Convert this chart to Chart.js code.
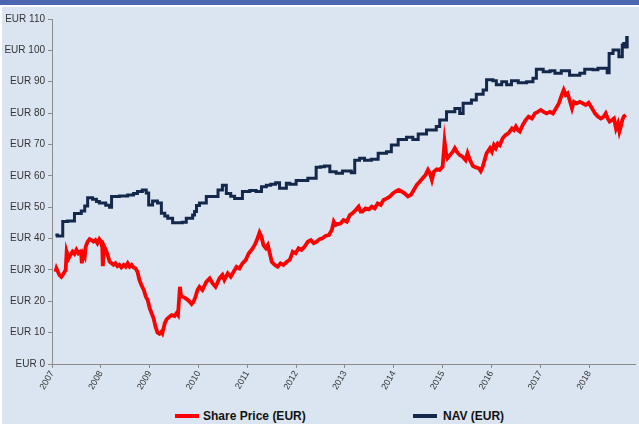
<!DOCTYPE html>
<html lang="en">
<head>
<meta charset="UTF-8">
<title>Share Price vs NAV</title>
<script src="https://cdn.jsdelivr.net/npm/chart.js"></script>
<style>
    body { margin: 0; width: 639px; height: 424px; position: relative; background: #ffffff; overflow: hidden; font-family: "Liberation Sans", Arial, sans-serif; }
    #topbar { position: absolute; left: 0; top: 0; width: 639px; height: 5px; background: #4c66b2; }
    #panel { position: absolute; left: 2px; top: 7px; width: 637px; height: 417px; background: #dbe5f1; }
    #wrap { position: absolute; left: 0; top: 0; width: 639px; height: 400px; }
    .leg { position: absolute; top: 408px; font-weight: bold; font-size: 12px; color: #111; line-height: 16px; }
    .leg span.swatch { position: absolute; top: 6px; width: 24px; height: 4px; }
</style>
</head>
<body>
<div id="topbar"></div>
<div id="panel"></div>
<div id="wrap"><canvas id="chart" width="639" height="400"></canvas></div>
<div class="leg" style="left:175px"><span class="swatch" style="left:0;background:#ff0000"></span><span style="margin-left:28px">Share Price (EUR)</span></div>
<div class="leg" style="left:413px"><span class="swatch" style="left:0;background:#14284b"></span><span style="margin-left:30px">NAV (EUR)</span></div>
<script>
// share price, roughly weekly readings (decimal years)
const shareYears = [2007.07, 2007.09, 2007.15, 2007.19, 2007.24, 2007.28, 2007.30, 2007.34, 2007.38, 2007.42,
    2007.46, 2007.50, 2007.54, 2007.58, 2007.60, 2007.61, 2007.64, 2007.67, 2007.69, 2007.73,
    2007.77, 2007.81, 2007.85, 2007.89, 2007.93, 2007.97, 2008.01, 2008.03, 2008.04, 2008.07,
    2008.10, 2008.14, 2008.18, 2008.22, 2008.26, 2008.30, 2008.34, 2008.38, 2008.42, 2008.47,
    2008.51, 2008.55, 2008.59, 2008.63, 2008.67, 2008.71, 2008.75, 2008.79, 2008.83, 2008.88,
    2008.92, 2008.96, 2009.00, 2009.04, 2009.08, 2009.12, 2009.16, 2009.20, 2009.24, 2009.26,
    2009.31, 2009.35, 2009.41, 2009.45, 2009.51, 2009.55, 2009.58, 2009.62, 2009.64, 2009.67,
    2009.74, 2009.80, 2009.86, 2009.90, 2009.94, 2009.98, 2010.02, 2010.08, 2010.16, 2010.23,
    2010.29, 2010.35, 2010.43, 2010.49, 2010.53, 2010.60, 2010.66, 2010.72, 2010.78, 2010.84,
    2010.90, 2010.97, 2011.03, 2011.09, 2011.15, 2011.21, 2011.25, 2011.29, 2011.33, 2011.38,
    2011.42, 2011.46, 2011.50, 2011.56, 2011.62, 2011.68, 2011.74, 2011.81, 2011.87, 2011.93,
    2011.99, 2012.05, 2012.11, 2012.17, 2012.24, 2012.30, 2012.36, 2012.42, 2012.48, 2012.54,
    2012.60, 2012.67, 2012.73, 2012.77, 2012.81, 2012.85, 2012.91, 2012.97, 2013.04, 2013.10,
    2013.16, 2013.22, 2013.28, 2013.32, 2013.36, 2013.42, 2013.49, 2013.55, 2013.61, 2013.67,
    2013.73, 2013.79, 2013.86, 2013.92, 2013.98, 2014.04, 2014.10, 2014.16, 2014.22, 2014.29,
    2014.35, 2014.41, 2014.47, 2014.53, 2014.59, 2014.65, 2014.70, 2014.74, 2014.78, 2014.82,
    2014.88, 2014.94, 2015.00, 2015.04, 2015.07, 2015.10, 2015.15, 2015.21, 2015.25, 2015.29,
    2015.35, 2015.41, 2015.47, 2015.51, 2015.56, 2015.62, 2015.68, 2015.74, 2015.78, 2015.82,
    2015.86, 2015.90, 2015.97, 2016.01, 2016.05, 2016.09, 2016.13, 2016.17, 2016.23, 2016.29,
    2016.35, 2016.42, 2016.46, 2016.50, 2016.54, 2016.58, 2016.64, 2016.70, 2016.76, 2016.83,
    2016.89, 2016.95, 2017.01, 2017.07, 2017.13, 2017.20, 2017.26, 2017.32, 2017.38, 2017.44,
    2017.48, 2017.52, 2017.56, 2017.60, 2017.65, 2017.69, 2017.75, 2017.81, 2017.87, 2017.93,
    2017.99, 2018.06, 2018.12, 2018.18, 2018.24, 2018.30, 2018.34, 2018.38, 2018.42, 2018.47,
    2018.51, 2018.55, 2018.59, 2018.62, 2018.65, 2018.68, 2018.71, 2018.75];
const sharePrice = [29.4, 30.5, 28.4, 27.8, 28.9, 30.0, 35.8, 33.7, 34.8, 35.8,
    35.1, 36.4, 35.3, 35.8, 34.8, 32.1, 35.1, 34.2, 37.4, 39.0,
    39.8, 39.5, 39.0, 39.5, 38.5, 39.8, 39.0, 36.9, 31.2, 37.4,
    36.4, 34.8, 32.6, 32.1, 31.6, 32.1, 31.2, 31.6, 30.8, 31.6,
    31.0, 32.1, 31.0, 31.6, 30.8, 30.5, 29.4, 26.8, 25.2, 23.6,
    21.5, 20.4, 17.8, 16.2, 14.6, 11.9, 10.0, 9.6, 10.3, 9.8,
    13.0, 14.3, 15.1, 15.6, 15.3, 16.2, 15.6, 24.6, 22.0, 21.5,
    20.9, 20.2, 19.1, 19.9, 21.5, 23.6, 24.6, 23.6, 26.2, 27.3,
    25.7, 24.6, 27.3, 28.4, 26.8, 28.9, 27.8, 29.4, 31.0, 30.5,
    32.1, 33.2, 35.3, 36.4, 37.9, 40.1, 41.9, 40.6, 37.9, 36.9,
    37.9, 35.3, 32.6, 31.6, 31.0, 32.1, 31.6, 32.6, 33.2, 35.8,
    35.3, 36.9, 36.4, 37.4, 39.0, 39.5, 38.5, 39.0, 39.8, 40.1,
    40.8, 41.1, 42.7, 45.4, 44.3, 44.6, 44.8, 45.9, 45.4, 47.5,
    48.1, 49.1, 50.2, 48.6, 48.6, 49.6, 49.3, 50.2, 49.6, 51.2,
    50.7, 52.3, 52.8, 53.4, 54.4, 55.0, 55.5, 55.0, 54.4, 53.4,
    53.9, 55.5, 57.1, 58.1, 59.2, 60.3, 61.9, 60.8, 58.7, 61.3,
    62.1, 61.9, 62.9, 70.9, 67.2, 65.6, 66.6, 67.7, 68.8, 67.7,
    66.6, 66.1, 65.0, 67.2, 65.0, 63.1, 62.7, 62.4, 61.5, 62.9,
    65.0, 67.2, 68.8, 67.7, 69.8, 68.8, 70.3, 69.8, 72.0, 73.0,
    73.6, 75.1, 74.6, 75.7, 74.6, 74.1, 76.2, 77.8, 78.9, 78.3,
    79.9, 80.4, 81.0, 80.4, 79.9, 80.4, 79.9, 81.5, 83.1, 85.8,
    87.4, 85.8, 86.3, 84.2, 81.5, 83.6, 83.1, 83.6, 83.1, 82.6,
    83.3, 81.5, 79.9, 78.9, 78.3, 78.9, 79.9, 78.3, 77.3, 77.8,
    78.3, 75.1, 76.7, 74.1, 75.7, 77.8, 78.9, 79.4];

// NAV, published in steps: each value holds until the next date
const navYears = [2007.07, 2007.11, 2007.22, 2007.32, 2007.46, 2007.60, 2007.67, 2007.73, 2007.83, 2007.91,
    2007.97, 2008.10, 2008.18, 2008.22, 2008.38, 2008.55, 2008.67, 2008.75, 2008.85, 2008.93,
    2008.98, 2009.06, 2009.16, 2009.24, 2009.31, 2009.37, 2009.47, 2009.67, 2009.75, 2009.88,
    2009.92, 2009.96, 2010.02, 2010.16, 2010.40, 2010.49, 2010.57, 2010.66, 2010.74, 2010.90,
    2011.05, 2011.18, 2011.29, 2011.39, 2011.48, 2011.58, 2011.66, 2011.80, 2011.87, 2012.00,
    2012.24, 2012.41, 2012.50, 2012.58, 2012.69, 2012.82, 2012.95, 2013.13, 2013.20, 2013.30,
    2013.40, 2013.54, 2013.68, 2013.85, 2013.95, 2014.09, 2014.26, 2014.39, 2014.50, 2014.67,
    2014.87, 2014.94, 2015.08, 2015.25, 2015.35, 2015.42, 2015.59, 2015.69, 2015.83, 2015.90,
    2016.03, 2016.10, 2016.21, 2016.31, 2016.41, 2016.55, 2016.72, 2016.85, 2016.92, 2017.06,
    2017.20, 2017.30, 2017.43, 2017.60, 2017.81, 2017.91, 2018.08, 2018.18, 2018.37, 2018.41,
    2018.49, 2018.61, 2018.68, 2018.71, 2018.73, 2018.77, 2018.78];
const navValues = [41.1, 40.8, 45.4, 45.6, 48.0, 48.8, 50.4, 53.0, 52.5, 51.8,
    51.3, 50.6, 50.0, 53.4, 53.6, 53.9, 54.4, 55.0, 55.5, 54.5,
    50.7, 52.0, 51.3, 48.1, 47.2, 46.5, 45.0, 45.2, 46.5, 47.5,
    48.6, 50.5, 51.3, 53.4, 55.5, 57.0, 54.4, 53.5, 52.8, 55.0,
    55.3, 55.0, 56.5, 57.0, 57.3, 57.8, 56.0, 57.6, 57.3, 58.5,
    59.2, 62.7, 62.9, 63.1, 61.3, 60.8, 61.5, 61.0, 65.0, 65.6,
    65.0, 65.3, 67.2, 67.7, 69.8, 71.6, 72.3, 71.6, 73.3, 74.6,
    75.7, 77.8, 80.4, 81.5, 79.9, 83.1, 84.2, 86.0, 87.4, 90.6,
    90.3, 89.0, 90.0, 89.0, 90.3, 89.7, 90.0, 91.1, 94.0, 93.2,
    93.5, 92.7, 93.5, 92.1, 92.7, 94.0, 93.8, 94.3, 92.9, 99.0,
    100.1, 98.0, 101.7, 102.2, 101.1, 104.1, 100.7];

const yearMin = 2007;
const yearMax = 2018.94;
const valueMax = 110;

const fontFamily = "'Liberation Sans', Arial, sans-serif";

new Chart(document.getElementById('chart'), {
    type: 'line',
    data: {
        datasets: [
            {
                label: 'Share Price (EUR)',
                data: shareYears.map((x, i) => ({ x: x, y: sharePrice[i] })),
                borderColor: '#ff0000',
                borderWidth: 3.8,
                pointRadius: 0,
                tension: 0
            },
            {
                label: 'NAV (EUR)',
                data: navYears.map((x, i) => ({ x: x, y: navValues[i] })),
                borderColor: '#14284b',
                borderWidth: 3,
                pointRadius: 0,
                stepped: true
            }
        ]
    },
    options: {
        responsive: false,
        animation: false,
        layout: { padding: { top: 19, right: 4, left: 0, bottom: 0 } },
        plugins: { legend: { display: false }, tooltip: { enabled: false } },
        scales: {
            x: {
                type: 'linear',
                min: yearMin,
                max: yearMax,
                afterFit: s => { s.height = 36; },
                border: { color: '#8c8c8c', width: 1 },
                grid: { drawOnChartArea: false, drawTicks: true, tickLength: 4, color: '#8c8c8c' },
                ticks: {
                    stepSize: 1,
                    includeBounds: false,
                    minRotation: 60,
                    maxRotation: 60,
                    autoSkip: false,
                    padding: 1,
                    color: '#333333',
                    font: { family: fontFamily, size: 9 },
                    callback: v => Number.isInteger(v) ? String(v) : ''
                }
            },
            y: {
                min: 0,
                max: valueMax,
                afterFit: s => { s.width = 52; },
                border: { color: '#8c8c8c', width: 1 },
                grid: { drawOnChartArea: false, drawTicks: true, tickLength: 4, color: '#8c8c8c' },
                ticks: {
                    stepSize: 10,
                    padding: 3,
                    color: '#333333',
                    font: { family: fontFamily, size: 10 },
                    callback: v => 'EUR ' + v
                }
            }
        }
    }
});
</script>
</body>
</html>
